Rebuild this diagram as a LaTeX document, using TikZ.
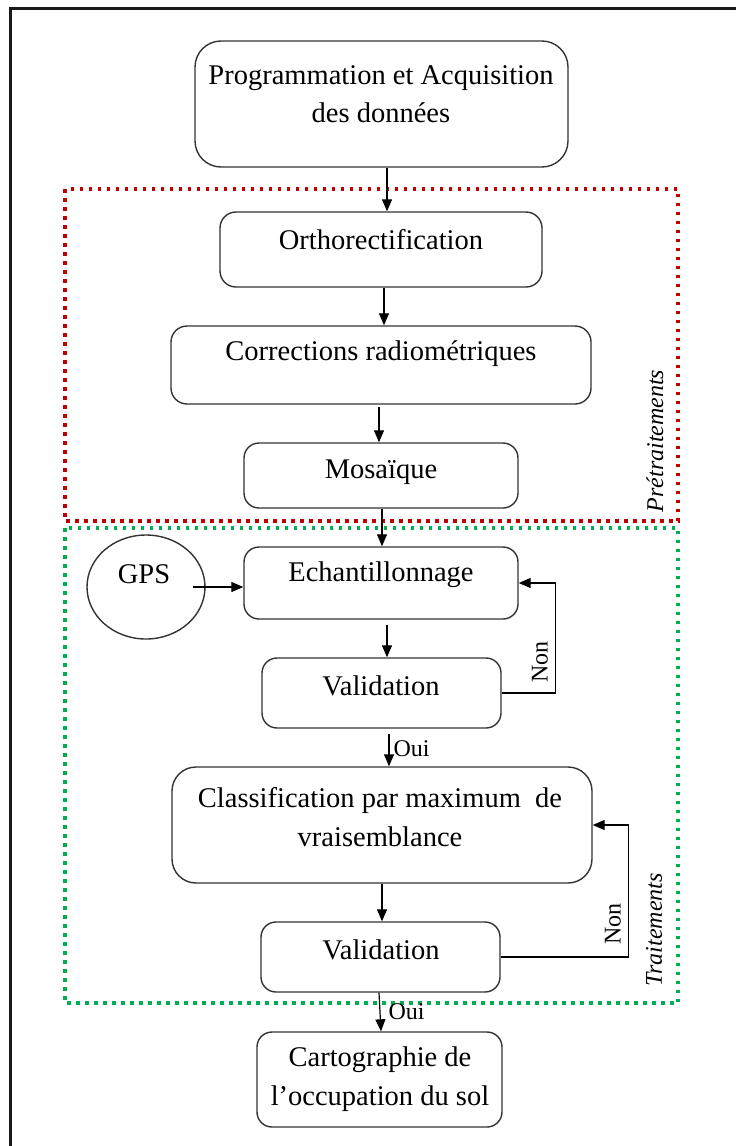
\documentclass[tikz,border=0pt]{standalone}
\usepackage{fontspec}
\setmainfont{Liberation Serif}
\usetikzlibrary{arrows.meta,shapes.geometric}
\definecolor{dred}{RGB}{192,0,0}
\definecolor{dgreen}{RGB}{0,176,80}
\begin{document}
\begin{tikzpicture}[x=1pt,y=-1pt,
  box/.style={draw=black!80,line width=1.4pt,rounded corners=15pt,inner sep=0pt},
  txt/.style={font=\fontsize{28.5}{38.5}\selectfont,align=center,inner sep=0pt},
  arr/.style={draw=black,line width=1.2pt,-{Triangle[length=12pt,width=10pt]}},
  lab/.style={font=\fontsize{24}{28}\selectfont,inner sep=0pt},
  sec/.style={font=\fontsize{24}{28}\selectfont\itshape,inner sep=0pt,rotate=90},
  reddots/.style={draw=dred,line width=3.5pt,dash pattern=on 3.5pt off 5.5pt},
  greendots/.style={draw=dgreen,line width=3.5pt,dash pattern=on 3.5pt off 5.5pt}]
\useasboundingbox (0,0) rectangle (736,1146);
% outer frame (only top and left visible)
\draw[line width=3pt,black!90] (10.5,1146) -- (10.5,8) -- (736,8);
% dotted section frames
\draw[reddots] (65,189) rectangle (678,521);
\draw[greendots] (65,528) rectangle (678,1003);
\node[sec] (pre) at (655,441) {Prétraitements};
\node[sec] (trt) at (654,930) {Traitements};
% boxes
\node[box,rounded corners=26pt,minimum width=373pt,minimum height=126pt] (b1) at (381.5,104) {};
\node[box,rounded corners=16pt,minimum width=322pt,minimum height=75pt] (b2) at (381,249.5) {};
\node[box,rounded corners=16pt,minimum width=420pt,minimum height=78pt] (b3) at (381,365) {};
\node[box,minimum width=274pt,minimum height=65pt] (b4) at (381,475.5) {};
\node[box,minimum width=274pt,minimum height=72pt] (b5) at (381,583) {};
\node[box,minimum width=239pt,minimum height=70pt] (b6) at (381.5,693) {};
\node[box,rounded corners=24pt,minimum width=420pt,minimum height=116pt] (b7) at (382,825) {};
\node[box,minimum width=239pt,minimum height=70pt] (b8) at (380.5,957) {};
\node[box,minimum width=245pt,minimum height=95pt] (b9) at (379.5,1079.5) {};
\node[draw=black!80,line width=1.4pt,ellipse,minimum width=118pt,minimum height=104pt,inner sep=0pt] (gps) at (146,587) {};
% texts
\node[txt] (t1) at (381,94) {Programmation et Acquisition\\des données};
\node[txt] (t2) at (381,240) {Orthorectification};
\node[txt] (t3) at (381,354) {Corrections radiométriques};
\node[txt] (t4) at (381,472) {Mosaïque};
\node[txt] (t5) at (381,575) {Echantillonnage};
\node[txt] (t6) at (381,686) {Validation};
\node[txt] (t7) at (380,817) {Classification par maximum~~de\\vraisemblance};
\node[txt] (t8) at (381,950) {Validation};
\node[txt] (t9) at (380,1079) {Cartographie de\\l’occupation du sol};
\node[txt] (tg) at (144,574) {GPS};
% connectors
\draw[arr] ([xshift=5.5pt]b1.south) -- ([xshift=6pt]b2.north);
\draw[arr] ([xshift=3pt]b2.south) -- ([xshift=3pt]b3.north);
\draw[arr] ([xshift=-2pt,yshift=-2pt]b3.south) -- ([xshift=-2pt]b4.north);
\draw[arr] ([xshift=1pt]b4.south) -- ([xshift=1pt]b5.north);
\draw[arr] ([xshift=6pt,yshift=-5pt]b5.south) -- ([xshift=5.5pt]b6.north);
\draw[arr] ([xshift=7.5pt,yshift=-5pt]b6.south) -- ([xshift=7pt]b7.north)
  node[lab,pos=0.45,anchor=west,xshift=4pt] (oui1) {Oui};
\draw[arr] ([xshift=0pt]b7.south) -- ([xshift=1.5pt]b8.north);
\draw[arr] ([xshift=-1.5pt]b8.south) -- ([xshift=1.5pt]b9.north)
  node[lab,pos=0.5,anchor=west,xshift=8pt] (oui2) {Oui};
\draw[arr] ([xshift=-13pt]gps.east) -- ([yshift=-4pt]b5.west);
\draw[arr] (b6.east) -- ++(54,0) |- (b5.east);
\draw[arr] (b8.east) -- ++(128,0) |- (b7.east);
\node[lab,rotate=90] (non1) at (540,662) {Non};
\node[lab,rotate=90] (non2) at (613,924) {Non};
\end{tikzpicture}
\end{document}
